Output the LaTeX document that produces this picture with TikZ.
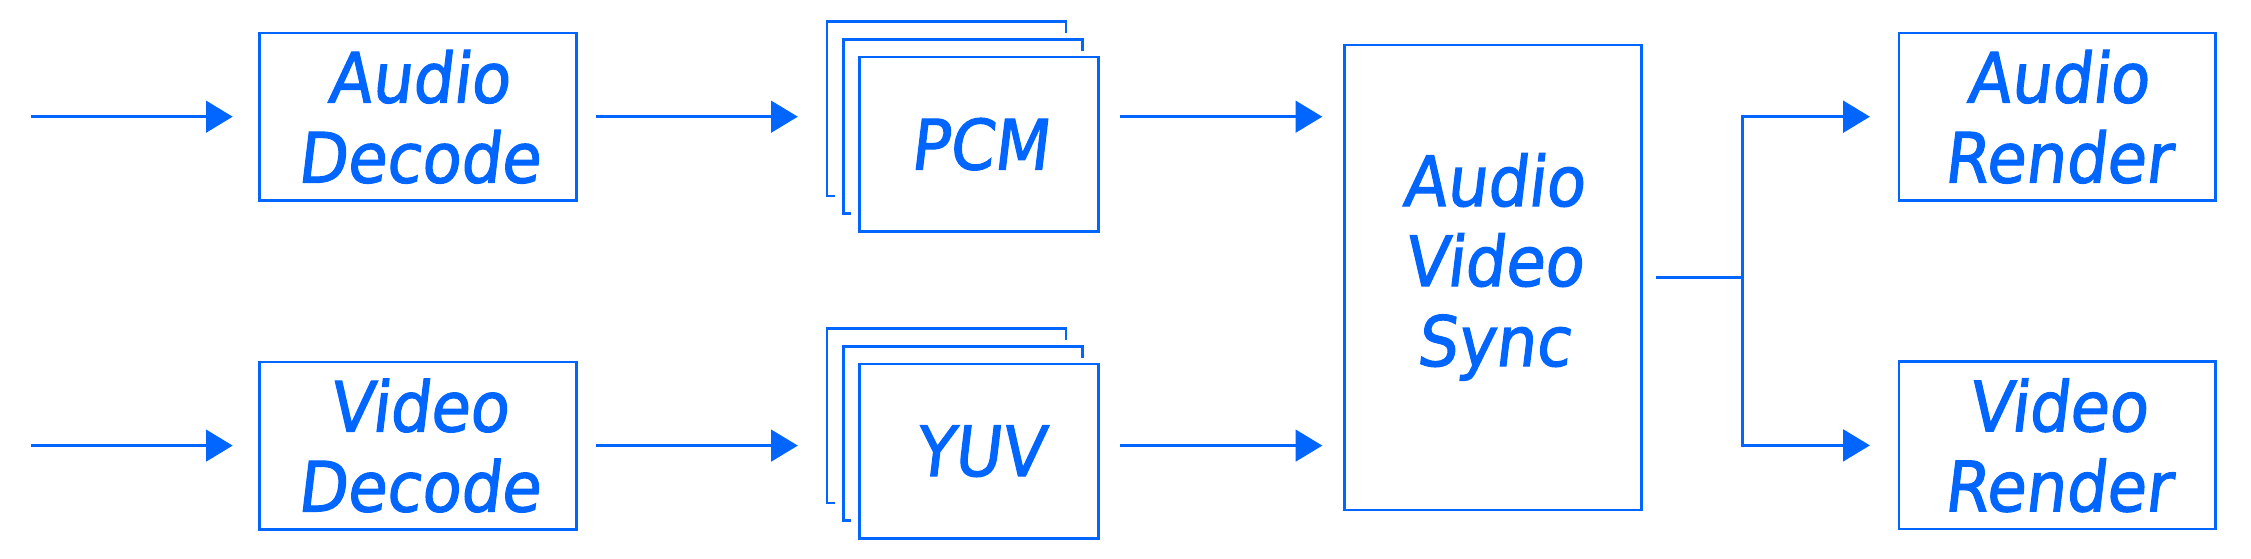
\documentclass[tikz,border=0pt]{standalone}
\usepackage{fontspec}
\newfontfamily\lblfont{DejaVu Sans}[FakeStretch=0.92,FakeSlant=0.12,FakeBold=1.6]
\usetikzlibrary{arrows.meta,calc}
\definecolor{blu}{RGB}{0,102,255}
\begin{document}
\begin{tikzpicture}[x=1pt,y=1pt,
  box/.style={draw=blu, line width=2.7pt, inner sep=0pt, outer sep=0pt, text=blu, align=center, font=\lblfont\fontsize{69.4}{80}\selectfont},
  smallbox/.style={box, minimum width=316.6pt, minimum height=167.3pt},
  framebox/.style={box, minimum width=239pt, minimum height=174.3pt},
  stacklayer/.style={draw=blu, line width=2.7pt},
  arr/.style={draw=blu, line width=2.7pt, -{Triangle[length=26.7pt,width=31.6pt]}},
  ]
\useasboundingbox (0,0) rectangle (2251,-559);
% boxes
\node[smallbox] (ad) at (418.1,-116.7) {Audio\\Decode};
\node[smallbox] (vd) at (418.1,-445.6) {Video\\Decode};
\node[framebox] (pcm) at (979,-144.2) {PCM};
\node[framebox] (yuv) at (979,-451.2) {YUV};
\node[box, minimum width=297pt, minimum height=465pt] (av) at (1493,-277.5) {Audio\\Video\\Sync\rule[-35.7pt]{0pt}{35.7pt}};
\node[smallbox] (ar) at (2057.2,-116.7) {Audio\\Render};
\node[smallbox] (vr) at (2057.2,-445.4) {Video\\Render};
% stacked frames behind PCM and YUV
\foreach \f in {pcm,yuv}{
  \foreach \k in {1,2}{
    \draw[stacklayer] ($(\f.south west)+({-16.25*\k+7.9},{17.65*\k})$) -- ++(-7.9,0)
      |- ($(\f.north east)+({-16.25*\k},{17.65*\k})$) -- ++(0,-11.7);
  }
}
% free ends
\coordinate (inA) at (30.6,-116.7);
\coordinate (inV) at (30.6,-445.6);
\coordinate (j) at (1742.7,-277.5);
% connectors
\draw[arr, shorten >=27.1pt] (inA) -- (ad.west);
\draw[arr, shorten >=27.1pt] (inV) -- (vd.west);
\draw[arr, shorten <=19.9pt, shorten >=61.7pt] (ad.east) -- (ad.east -| pcm.west);
\draw[arr, shorten <=19.9pt, shorten >=61.7pt] (vd.east) -- (vd.east -| yuv.west);
\draw[arr, shorten <=21.5pt, shorten >=22.2pt] (pcm.east |- ad.east) -- (av.west |- ad.east);
\draw[arr, shorten <=21.5pt, shorten >=22.2pt] (yuv.east |- vd.east) -- (av.west |- vd.east);
\draw[arr, shorten <=14.5pt, shorten >=29pt] (av.east) -- (j) |- (ar.west);
\draw[arr, shorten >=29pt] (j) |- (vr.west);
\end{tikzpicture}
\end{document}
